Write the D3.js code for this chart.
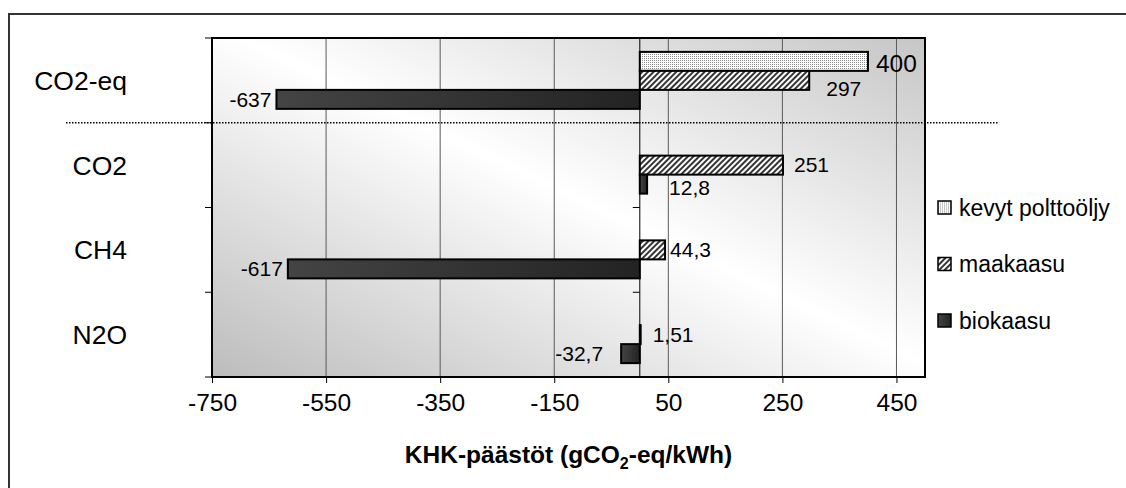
<!DOCTYPE html>
<html>
<head>
<meta charset="utf-8">
<script src="https://cdn.jsdelivr.net/npm/d3@7"></script>
<style>
  body { margin: 0; background: #fff; }
  svg { display: block; font-family: "Liberation Sans", Arial, sans-serif; }
  .grid line { stroke: #5a5a5a; stroke-width: 1; }
  .xaxis path { display: none; }
  .xaxis line { stroke: #000; }
  .xaxis text { font-size: 24.5px; fill: #000; }
  .cat { font-size: 26.5px; fill: #000; }
  .lbl { fill: #000; }
  .legend text { font-size: 23px; fill: #000; }
</style>
</head>
<body>
<svg id="svg" width="1126" height="488"></svg>
<script>
// data
var categories = ["CO2-eq", "CO2", "CH4", "N2O"];
var series = ["kevyt polttoöljy", "maakaasu", "biokaasu"];
var kevytPolttooljy = [400, null, null, null];
var maakaasu = [297, 251, 44.3, 1.51];
var biokaasu = [-637, 12.8, -617, -32.7];
var xTicks = [-750, -550, -350, -150, 50, 250, 450];
var xTitle = "KHK-päästöt (gCO";
var xTitleSub = "2";
var xTitleEnd = "-eq/kWh)";

var values = [kevytPolttooljy, maakaasu, biokaasu];

// hand moved labels (like in the original sheet)
var labelNudge = {
  "400": [3, 2, 24.5],
  "297": [12, 8],
  "251": [6, 0],
  "12,8": [17, 4],
  "1,51": [7, 0],
  "-32,7": [-13, 0]
};

var width = 1126, height = 488;
var margin = {left: 212, right: 925, top: 38, bottom: 377};

var svg = d3.select("#svg");
var defs = svg.append("defs");

// plot background gradient
var bg = defs.append("linearGradient").attr("id", "bgGrad")
  .attr("x1", 0).attr("y1", 1).attr("x2", 1).attr("y2", 0);
bg.append("stop").attr("offset", "0%").attr("stop-color", "#bcbcbc");
bg.append("stop").attr("offset", "52%").attr("stop-color", "#ffffff");
bg.append("stop").attr("offset", "100%").attr("stop-color", "#c6c6c6");

// fine dots
var dots = defs.append("pattern").attr("id", "dots")
  .attr("width", 2).attr("height", 2).attr("patternUnits", "userSpaceOnUse");
dots.append("rect").attr("width", 2).attr("height", 2).attr("fill", "#fff");
dots.append("rect").attr("width", 1).attr("height", 1).attr("fill", "#8c8c8c");

// diagonal hatch
var hatch = defs.append("pattern").attr("id", "hatch")
  .attr("width", 4).attr("height", 4).attr("patternUnits", "userSpaceOnUse")
  .attr("patternTransform", "rotate(45)");
hatch.append("rect").attr("width", 4).attr("height", 4).attr("fill", "#fff");
hatch.append("line").attr("x1", 1).attr("y1", 0).attr("x2", 1).attr("y2", 4)
  .attr("stroke", "#000").attr("stroke-width", 1.6);

var dark = defs.append("linearGradient").attr("id", "darkGrad")
  .attr("x1", 0).attr("y1", 0).attr("x2", 1).attr("y2", 0);
dark.append("stop").attr("offset", "0%").attr("stop-color", "#444");
dark.append("stop").attr("offset", "100%").attr("stop-color", "#232323");

var fills = ["url(#dots)", "url(#hatch)", "url(#darkGrad)"];

// outer frame (right and bottom are cut off)
svg.append("rect").attr("x", 9).attr("y", 14)
  .attr("width", 1130).attr("height", 490)
  .attr("fill", "none").attr("stroke", "#333").attr("stroke-width", 2);

var x = d3.scaleLinear().domain([-750, 500]).range([margin.left, margin.right]);
var y = d3.scaleBand().domain(categories).range([margin.top, margin.bottom]);
var bw = y.bandwidth();
var yInner = d3.scaleBand().domain(series).range([0, bw]).paddingOuter(0.73);

var loc = d3.formatLocale({decimal: ",", thousands: " ", grouping: [3], currency: ["", " €"], minus: "-"});
var fmt = loc.format("~g");

// plot area
svg.append("rect").attr("x", margin.left).attr("y", margin.top)
  .attr("width", margin.right - margin.left).attr("height", margin.bottom - margin.top)
  .attr("fill", "url(#bgGrad)");

svg.append("g").attr("class", "grid")
  .selectAll("line").data(xTicks).enter().append("line")
  .attr("x1", function(d) { return x(d); }).attr("x2", function(d) { return x(d); })
  .attr("y1", margin.top).attr("y2", margin.bottom);

// zero axis with its category ticks
svg.append("line").attr("x1", x(0)).attr("x2", x(0))
  .attr("y1", margin.top).attr("y2", margin.bottom)
  .attr("stroke", "#000").attr("stroke-width", 1);

var bounds = categories.map(function(c) { return y(c); }).concat([margin.bottom]);
svg.append("g").selectAll("line").data(bounds).enter().append("line")
  .attr("x1", x(0) - 7).attr("x2", x(0))
  .attr("y1", function(d) { return d; }).attr("y2", function(d) { return d; })
  .attr("stroke", "#000");
svg.append("g").selectAll("line").data(bounds).enter().append("line")
  .attr("x1", margin.left - 7).attr("x2", margin.left)
  .attr("y1", function(d) { return d; }).attr("y2", function(d) { return d; })
  .attr("stroke", "#000");

// bars
var rows = [];
series.forEach(function(s, si) {
  categories.forEach(function(c, ci) {
    var v = values[si][ci];
    if (v === null) return;
    rows.push({s: s, si: si, c: c, v: v});
  });
});

svg.append("g").selectAll("rect").data(rows).enter().append("rect")
  .attr("x", function(d) { return x(Math.min(0, d.v)); })
  .attr("y", function(d) { return y(d.c) + yInner(d.s); })
  .attr("width", function(d) { return Math.abs(x(d.v) - x(0)); })
  .attr("height", yInner.bandwidth())
  .attr("fill", function(d) { return fills[d.si]; })
  .attr("stroke", "#000").attr("stroke-width", 2);

// value labels
svg.append("g").selectAll("text").data(rows).enter().append("text")
  .attr("class", "lbl")
  .each(function(d) {
    var t = fmt(d.v);
    var n = labelNudge[t] || [0, 0];
    var fs = n[2] || 21;
    var cy = y(d.c) + yInner(d.s) + yInner.bandwidth() / 2;
    d3.select(this)
      .attr("x", d.v < 0 ? x(d.v) - 5 + n[0] : x(d.v) + 5 + n[0])
      .attr("y", cy + fs * 0.35 + n[1])
      .attr("text-anchor", d.v < 0 ? "end" : "start")
      .style("font-size", fs + "px")
      .text(t);
  });

// plot border
svg.append("rect").attr("x", margin.left).attr("y", margin.top)
  .attr("width", margin.right - margin.left).attr("height", margin.bottom - margin.top)
  .attr("fill", "none").attr("stroke", "#000").attr("stroke-width", 2);

// x axis
var xAxis = svg.append("g").attr("class", "xaxis")
  .attr("transform", "translate(0," + margin.bottom + ")")
  .call(d3.axisBottom(x).tickValues(xTicks).tickSize(6).tickPadding(11).tickFormat(fmt));
xAxis.selectAll("text").attr("dy", "0.71em");

// category labels
svg.append("g").selectAll("text").data(categories).enter().append("text")
  .attr("class", "cat")
  .attr("x", 127)
  .attr("y", function(d) { return y(d) + bw / 2 + 9.5; })
  .attr("text-anchor", "end")
  .text(function(d) { return d; });

// dotted separator below CO2-eq
svg.append("line").attr("x1", 66).attr("x2", 999)
  .attr("y1", y("CO2")).attr("y2", y("CO2"))
  .attr("stroke", "#000").attr("stroke-width", 1.5)
  .attr("stroke-dasharray", "1.5,1.5");

// axis title
var title = svg.append("text")
  .attr("x", (margin.left + margin.right) / 2).attr("y", 463)
  .attr("text-anchor", "middle")
  .style("font-size", "24.5px").style("font-weight", "bold");
title.append("tspan").text(xTitle);
title.append("tspan").attr("dy", 6).style("font-size", "16px").text(xTitleSub);
title.append("tspan").attr("dy", -6).text(xTitleEnd);

// legend
var legend = svg.append("g").attr("class", "legend")
  .selectAll("g").data(series).enter().append("g")
  .attr("transform", function(d, i) { return "translate(938," + (207.5 + i * 56.5) + ")"; });
legend.append("rect").attr("x", 0).attr("y", -6.5).attr("width", 13).attr("height", 13)
  .attr("fill", function(d, i) { return fills[i]; })
  .attr("stroke", "#000").attr("stroke-width", 1.5);
legend.append("text").attr("x", 21).attr("y", 8).text(function(d) { return d; });
</script>
</body>
</html>
